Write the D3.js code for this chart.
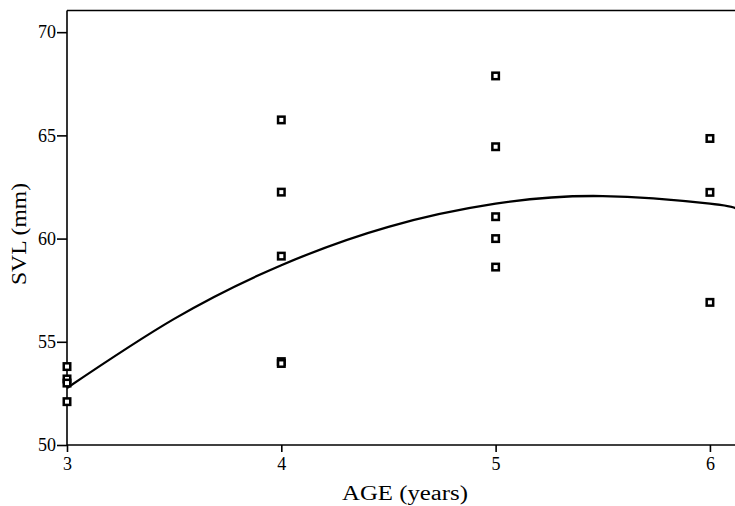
<!DOCTYPE html>
<html>
<head>
<meta charset="utf-8">
<script src="https://cdn.jsdelivr.net/npm/d3@7"></script>
<style>
  body { margin: 0; background: #fff; }
  svg { display: block; }
  text { font-family: "Liberation Serif", "Times New Roman", serif; fill: #000; }
</style>
</head>
<body>
<div id="chart"></div>
<script>
// observed points, SVL (mm) by age (years)
const ages = [3, 3, 3, 3, 4, 4, 4, 4, 4, 5, 5, 5, 5, 5, 6, 6, 6];
const svl = [53.8, 53.2, 53.0, 52.1, 65.75, 62.25, 59.15, 54.04, 53.95,
             67.88, 64.45, 61.06, 60.0, 58.62, 64.85, 62.24, 56.91];

// fitted curve
const fitAges = [3, 3.5, 4, 4.5, 5, 5.5, 6, 6.12];
const fitSvl = [52.76, 56.11, 58.71, 60.57, 61.69, 62.06, 61.69, 61.47];

const xTicks = [3, 4, 5, 6];
const yTicks = [50, 55, 60, 65, 70];

const width = 735, height = 506;
const plotLeft = 67, plotRight = 735, plotTop = 10.5, plotBottom = 445;

const svg = d3.select("#chart").append("svg")
    .attr("width", width)
    .attr("height", height);

const x = d3.scaleLinear().domain([3, 6.117]).range([plotLeft, plotRight]);
const y = d3.scaleLinear().domain([50, 71.05]).range([plotBottom, plotTop]);

// frame: top border line
svg.append("line")
    .attr("x1", plotLeft).attr("x2", plotRight)
    .attr("y1", plotTop).attr("y2", plotTop)
    .attr("stroke", "#000").attr("stroke-width", 1.5);

const xAxis = svg.append("g")
    .attr("transform", `translate(0,${plotBottom})`)
    .call(d3.axisBottom(x).tickValues(xTicks).tickFormat(d3.format("d"))
        .tickSize(7).tickPadding(5).tickSizeOuter(0));
xAxis.select(".domain").remove();

const yAxis = svg.append("g")
    .attr("transform", `translate(${plotLeft},0)`)
    .call(d3.axisLeft(y).tickValues(yTicks).tickFormat(d3.format("d"))
        .tickSize(10).tickPadding(1).tickSizeOuter(0));
yAxis.select(".domain").remove();

svg.selectAll(".tick line").attr("stroke", "#000").attr("stroke-width", 1.6);
svg.selectAll(".tick text").style("font-size", "18px").attr("fill", "#000");

// axis lines
svg.append("line")
    .attr("x1", plotLeft).attr("x2", plotRight)
    .attr("y1", plotBottom).attr("y2", plotBottom)
    .attr("stroke", "#000").attr("stroke-width", 1.6);
svg.append("line")
    .attr("x1", plotLeft).attr("x2", plotLeft)
    .attr("y1", plotTop).attr("y2", plotBottom)
    .attr("stroke", "#000").attr("stroke-width", 1.6);

// fitted curve
const line = d3.line()
    .x((d, i) => x(fitAges[i]))
    .y(d => y(d))
    .curve(d3.curveNatural);

svg.append("path")
    .datum(fitSvl)
    .attr("d", line)
    .attr("fill", "none")
    .attr("stroke", "#000")
    .attr("stroke-width", 2.3);

// points
svg.selectAll("rect.pt")
    .data(svl)
    .join("rect")
    .attr("class", "pt")
    .attr("x", (d, i) => x(ages[i]) - 3.25)
    .attr("y", d => y(d) - 3.25)
    .attr("width", 6.5)
    .attr("height", 6.5)
    .attr("fill", "#fff")
    .attr("stroke", "#000")
    .attr("stroke-width", 2.5);

// axis titles
svg.append("text")
    .attr("x", 342)
    .attr("y", 500)
    .attr("textLength", 126)
    .attr("lengthAdjust", "spacingAndGlyphs")
    .style("font-size", "20px")
    .text("AGE (years)");

svg.append("text")
    .attr("transform", "translate(26,285) rotate(-90)")
    .attr("textLength", 102)
    .attr("lengthAdjust", "spacingAndGlyphs")
    .style("font-size", "20px")
    .text("SVL (mm)");
</script>
</body>
</html>
